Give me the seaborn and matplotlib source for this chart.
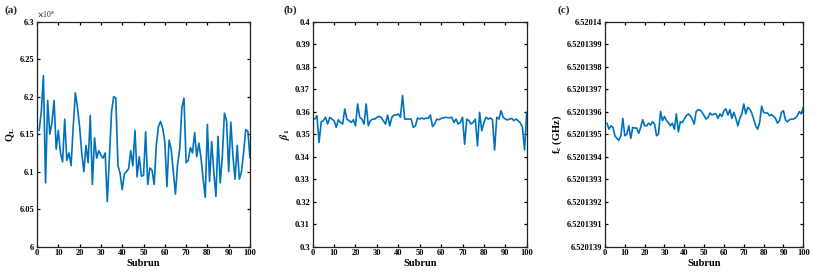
import numpy as np
import pandas as pd
import seaborn as sns
import matplotlib.pyplot as plt
from matplotlib.ticker import MultipleLocator, FuncFormatter

# subrun index
subrun = list(range(1, 101))

# loaded Q, in units of 1e5
ql_e5 = [6.155, 6.18, 6.228, 6.085, 6.195, 6.15, 6.165, 6.195, 6.13, 6.155,
         6.125, 6.113, 6.17, 6.115, 6.125, 6.108, 6.16, 6.205, 6.185, 6.16,
         6.125, 6.1, 6.135, 6.112, 6.175, 6.083, 6.145, 6.118, 6.128, 6.122,
         6.118, 6.125, 6.06, 6.12, 6.18, 6.2, 6.198, 6.108, 6.098, 6.076,
         6.097, 6.1, 6.104, 6.128, 6.108, 6.155, 6.093, 6.12, 6.094, 6.095,
         6.153, 6.083, 6.105, 6.102, 6.083, 6.135, 6.16, 6.167, 6.158, 6.14,
         6.08, 6.142, 6.13, 6.1, 6.07, 6.11, 6.13, 6.185, 6.198, 6.112,
         6.115, 6.132, 6.125, 6.152, 6.12, 6.138, 6.118, 6.09, 6.066, 6.163,
         6.087, 6.14, 6.1, 6.067, 6.147, 6.085, 6.12, 6.178, 6.168, 6.1,
         6.166, 6.12, 6.09, 6.135, 6.09, 6.1, 6.125, 6.156, 6.154, 6.118]

# coupling coefficient
beta1 = [0.3567, 0.3582, 0.3463, 0.3555, 0.356, 0.3575, 0.3545, 0.3575, 0.3567, 0.356,
         0.353, 0.3564, 0.3552, 0.3545, 0.3612, 0.3567, 0.356, 0.3552, 0.3564, 0.3537,
         0.3634, 0.3575, 0.3567, 0.3545, 0.3634, 0.3537, 0.356, 0.3567, 0.3567, 0.3575,
         0.3579, 0.3575, 0.356, 0.3545, 0.3585, 0.3537, 0.3575, 0.3585, 0.3585, 0.359,
         0.3575, 0.3672, 0.3567, 0.3567, 0.3567, 0.3567, 0.353, 0.3537, 0.3572, 0.3567,
         0.3572, 0.3567, 0.3572, 0.357, 0.3585, 0.3534, 0.3545, 0.3567, 0.3564, 0.357,
         0.3572, 0.3575, 0.3573, 0.3573, 0.3575, 0.3552, 0.3567, 0.3545, 0.3552, 0.3575,
         0.3455, 0.3567, 0.356, 0.3545, 0.3552, 0.3567, 0.3448, 0.3597, 0.3515, 0.3552,
         0.3575, 0.3567, 0.3572, 0.3564, 0.343, 0.3575, 0.3567, 0.3604, 0.3575, 0.3567,
         0.3563, 0.3567, 0.357, 0.356, 0.3567, 0.356, 0.355, 0.353, 0.343, 0.3597]

# resonance frequency offset above 6.520139 GHz, in units of 1e-7 GHz
fc_off = [5.49, 5.22, 5.37, 5.30, 4.93, 4.81, 4.73, 4.93, 5.70, 4.93,
          5.00, 5.37, 4.81, 5.30, 5.27, 5.27, 5.04, 5.30, 5.64, 5.37,
          5.37, 5.49, 5.40, 5.55, 5.45, 4.93, 5.00, 6.01, 5.60, 5.79,
          5.60, 5.52, 5.37, 5.49, 5.22, 5.90, 5.10, 5.55, 5.52, 5.67,
          5.82, 5.90, 5.82, 5.67, 5.45, 6.01, 6.09, 6.06, 5.97, 5.82,
          5.67, 5.75, 5.94, 5.85, 5.90, 5.90, 5.70, 5.90, 5.79, 6.04,
          6.12, 5.85, 6.09, 5.70, 5.97, 5.70, 5.37, 5.70, 5.90, 6.34,
          5.90, 6.19, 6.12, 5.94, 5.67, 5.37, 5.22, 5.52, 6.24, 5.97,
          5.94, 5.94, 5.82, 5.87, 5.79, 5.70, 5.49, 5.60, 5.97, 6.04,
          5.64, 5.55, 5.64, 5.67, 5.67, 5.72, 5.82, 6.00, 5.90, 6.19]
fc = [6.520139 + v * 1e-7 for v in fc_off]

df = pd.DataFrame({'Subrun': subrun, 'QL': ql_e5, 'beta1': beta1, 'fc': fc})

sns.set_style('ticks')
plt.rcParams['font.family'] = ['Liberation Serif', 'DejaVu Serif']
plt.rcParams['font.weight'] = 'bold'
plt.rcParams['mathtext.fontset'] = 'stix'
plt.rcParams['xtick.direction'] = 'in'
plt.rcParams['ytick.direction'] = 'in'

fig = plt.figure(figsize=(8.3, 2.77), dpi=100)
boxes = [[0.0446, 0.1094, 0.2566, 0.8125],
         [0.3767, 0.1094, 0.2579, 0.8125],
         [0.7289, 0.1094, 0.2389, 0.8125]]
cols = ['QL', 'beta1', 'fc']
ylims = [(6, 6.3), (0.3, 0.4), (6.520139, 6.52014)]
yticks = [np.linspace(6, 6.3, 7), np.linspace(0.3, 0.4, 11),
          np.linspace(6.520139, 6.52014, 11)]
ylabels = [r'Q$_\mathbf{L}$', r'$\beta_\mathbf{1}$', r'f$_\mathbf{c}$ (GHz)']
tags = ['(a)', '(b)', '(c)']
fmts = ['%g', '%g', '%.8g']
tag_x = [0.005, 0.341, 0.672]

for i in range(3):
    ax = fig.add_axes(boxes[i])
    sns.lineplot(data=df, x='Subrun', y=cols[i], ax=ax, color='#0072BD', linewidth=1.2)
    ax.set_xlim(0, 100)
    ax.set_ylim(*ylims[i])
    ax.xaxis.set_major_locator(MultipleLocator(10))
    ax.set_yticks(yticks[i])
    f = fmts[i]
    ax.yaxis.set_major_formatter(FuncFormatter(lambda v, p, f=f: f % v))
    ax.tick_params(top=True, right=True, length=2.5, width=0.9, labelsize=6,
                   pad=2, colors='black')
    for lab in ax.get_xticklabels() + ax.get_yticklabels():
        lab.set_fontweight('bold')
    for s in ax.spines.values():
        s.set_linewidth(0.9)
        s.set_color('#222222')
    ax.set_xlabel('Subrun', fontsize=7.5, fontweight='bold', labelpad=1, color='black')
    ax.set_ylabel(ylabels[i], fontsize=7.5, fontweight='bold', labelpad=2, color='black')
    fig.text(tag_x[i], 0.955, tags[i], fontsize=8, fontweight='bold')
    if i == 0:
        ax.text(0.0, 1.012, r'$\times$10$^5$', transform=ax.transAxes,
                fontsize=5.5, fontweight='normal', va='bottom')

fig.savefig('out.png', dpi=100)
